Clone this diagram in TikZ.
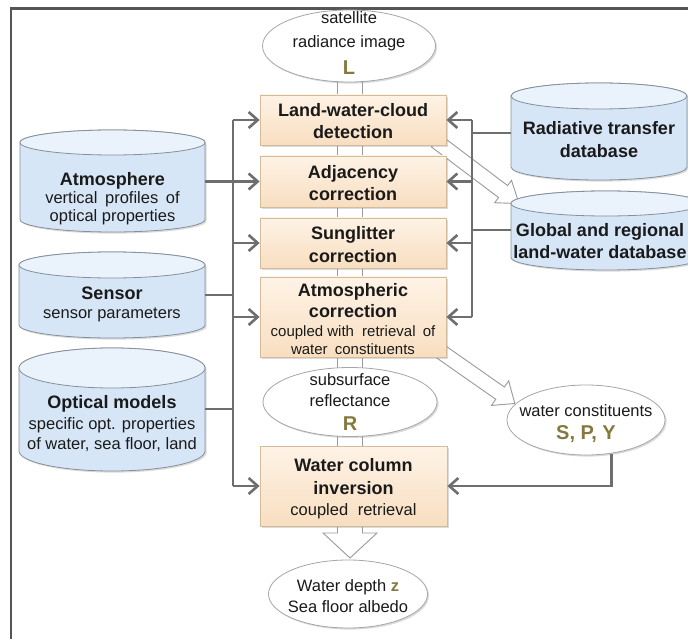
\documentclass[tikz,border=0pt]{standalone}
\usepackage{fontspec}
\setmainfont{Liberation Sans}
\usetikzlibrary{arrows.meta,shapes.geometric,shadows,calc}
\definecolor{conncol}{HTML}{6E6E6E}
\definecolor{boxtop}{HTML}{FEF3E6}
\definecolor{boxbot}{HTML}{F8DEC0}
\definecolor{boxedge}{HTML}{D3BC9C}
\definecolor{cyltop}{HTML}{EAF2FC}
\definecolor{cylbody}{HTML}{D6E6F7}
\definecolor{cyledge}{HTML}{86909A}
\definecolor{elledge}{HTML}{A6A6A6}
\definecolor{olivec}{HTML}{857A3E}
\definecolor{framec}{HTML}{555555}
\definecolor{blockedge}{HTML}{9A9A9A}
\definecolor{txtc}{HTML}{1A1A1A}
\tikzset{
 conn/.style={draw=conncol, line width=2.6pt},
 arr/.style={-{Straight Barb[length=9pt,width=16pt]}},
 shad/.style={drop shadow={opacity=0.28, shadow xshift=1.6pt, shadow yshift=-1.6pt}},
 pbox/.style={rectangle, inner sep=0pt, minimum width=186pt, draw=boxedge, line width=0.8pt, top color=boxtop, bottom color=boxbot, shad},
 oval/.style={ellipse, inner sep=0pt, draw=elledge, line width=0.8pt, fill=white, shad},
 cylbod/.style={draw=cyledge, line width=0.8pt, fill=cylbody, shad},
 cyltopst/.style={draw=cyledge, line width=0.8pt, fill=cyltop},
 blk/.style={draw=blockedge, line width=0.9pt, fill=white},
 tb/.style={inner sep=0pt, font=\fontsize{18}{18}\selectfont\bfseries, text height=13pt, text depth=0pt, text=txtc},
 tr/.style={inner sep=0pt, font=\fontsize{16.5}{16.5}\selectfont, text height=12pt, text depth=0pt, text=txtc},
 ts/.style={inner sep=0pt, font=\fontsize{15}{15}\selectfont, text height=11pt, text depth=0pt, text=txtc},
 tl/.style={inner sep=0pt, font=\fontsize{20}{20}\selectfont\bfseries, text height=14.5pt, text depth=0pt, text=olivec},
}
% cx, rx, Ytop, Ybot, ry
\newcommand\mycyl[5]{%
 \path[cylbod] (#1-#2,#3-#5) -- (#1-#2,#4+#5) arc[start angle=180,end angle=360,x radius=#2,y radius=#5] -- (#1+#2,#3-#5) arc[start angle=0,end angle=180,x radius=#2,y radius=#5] -- cycle;
 \path[cyltopst] (#1,#3-#5) ellipse[x radius=#2, y radius=#5];}
% sx, sy, angle, shaft length, head length, shaft half width, head half width
\newcommand\myblockarrow[7]{%
 \begin{scope}[shift={(#1,#2)}, rotate=#3]
 \path[blk] (0,-#6) -- (#4,-#6) -- (#4,-#7) -- (#4+#5,0) -- (#4,#7) -- (#4,#6) -- (0,#6) -- cycle;
 \end{scope}}
\begin{document}
\begin{tikzpicture}[x=1pt,y=1pt]
\path[use as bounding box] (0,0) rectangle (688,638);
\clip (0,0) rectangle (688,638);
\fill[white] (0,0) rectangle (688,638);
% frame
\draw[framec, line width=2.5pt] (10.8,-5) -- (10.8,629.5) -- (700,629.5);
% central hollow arrow
\path[blk] (337.5,578) -- (337.5,105) -- (323,105) -- (350,80) -- (377,105) -- (362.5,105) -- (362.5,578) -- cycle;
% diagonal hollow arrows
\myblockarrow{436}{497}{-37}{84}{20}{7.5}{14}
\myblockarrow{437}{289}{-35}{77}{18}{7.5}{15}
% cylinders
\mycyl{112.5}{92.5}{508}{406}{12.5}
\mycyl{112}{93}{386}{300}{13}
\mycyl{112}{93}{290}{167}{20}
\mycyl{599}{88}{555}{458}{13}
\mycyl{606}{95}{447}{368}{12.5}
% main shapes
\node[oval, minimum width=173pt, minimum height=72pt] (sat) at (349,592) {};
\node[pbox, minimum height=50pt] (box1) at (353,518) {};
\node[pbox, minimum height=51pt] (box2) at (353,456.5) {};
\node[pbox, minimum height=50pt] (box3) at (353,395) {};
\node[pbox, minimum height=80pt] (box4) at (353,321) {};
\node[oval, minimum width=174pt, minimum height=69pt] (sub) at (350,236) {};
\node[pbox, minimum width=187pt, minimum height=80pt] (box5) at (353.5,152) {};
\node[oval, minimum width=159pt, minimum height=68pt] (bot) at (348,44) {};
\node[oval, minimum width=158pt, minimum height=70pt] (wc) at (586,218) {};
% texts
\node[tr] (t-sat1) at (349,620) {satellite};
\node[tr] (t-sat2) at (349,596) {radiance image};
\node[tl] (t-sat3) at (349,571) {L};
\node[tb] (t-b1a) at (353,528) {Land-water-cloud};
\node[tb] (t-b1b) at (353,506) {detection};
\node[tb] (t-b2a) at (353,466) {Adjacency};
\node[tb] (t-b2b) at (353,444) {correction};
\node[tb] (t-b3a) at (353,405) {Sunglitter};
\node[tb] (t-b3b) at (353,382) {correction};
\node[tb] (t-b4a) at (353,348) {Atmospheric};
\node[tb] (t-b4b) at (353,327) {correction};
\node[ts] (t-b4c) at (353,307) {coupled with\hspace{4pt} retrieval\hspace{3pt} of};
\node[ts] (t-b4d) at (353,289) {water\hspace{3pt} constituents};
\node[tr] (t-sub1) at (350,258) {subsurface};
\node[tr] (t-sub2) at (350,238) {reflectance};
\node[tl] (t-sub3) at (350,215) {R};
\node[tb] (t-b5a) at (353.5,173) {Water column};
\node[tb] (t-b5b) at (353.5,150) {inversion};
\node[tr] (t-b5c) at (353.5,129) {coupled\hspace{5pt} retrieval};
\node[tr] (t-bot1) at (348,53) {Water depth \textcolor{olivec}{\bfseries z}};
\node[tr] (t-bot2) at (348,32) {Sea floor albedo};
\node[tr] (t-wc1) at (586,228) {water constituents};
\node[tl] (t-wc2) at (586,206) {S, P, Y};
\node[tb] (t-atm1) at (112.5,459) {Atmosphere};
\node[tr] (t-atm2) at (112.5,440) {vertical\hspace{3pt} profiles\hspace{3pt} of};
\node[tr] (t-atm3) at (112.5,422) {optical properties};
\node[tb] (t-sen1) at (112,345) {Sensor};
\node[tr] (t-sen2) at (112,325) {sensor parameters};
\node[tb] (t-opt1) at (112,236) {Optical models};
\node[tr] (t-opt2) at (112,215) {specific opt. properties};
\node[tr] (t-opt3) at (112,195) {of water, sea floor, land};
\node[tb] (t-rad1) at (599,510) {Radiative transfer};
\node[tb] (t-rad2) at (599,487) {database};
\node[tb] (t-glo1) at (600,408) {Global and regional};
\node[tb] (t-glo2) at (600,386) {land-water database};
% connector anchors
\coordinate (lbus) at (233,0);
\coordinate (rbus) at (472,0);
\coordinate (atmR) at (205,457);
\coordinate (sensR) at (205,343);
\coordinate (optR) at (205,229);
\coordinate (radL) at (511,505);
\coordinate (gloL) at (511,408);
% left connectors
\draw[conn] (box1.west -| lbus) -- (box5.west -| lbus);
\draw[conn,arr] (box1.west -| lbus) -- (box1.west);
\draw[conn,arr] (box2.west -| atmR) -- (box2.west);
\draw[conn,arr] (box3.west -| lbus) -- (box3.west);
\draw[conn,arr] (box4.west -| lbus) -- (box4.west);
\draw[conn,arr] (box5.west -| lbus) -- (box5.west);
\draw[conn] (sensR) -- (sensR -| lbus);
\draw[conn] (optR) -- (optR -| lbus);
% right connectors
\draw[conn] (box1.east -| rbus) -- (box4.east -| rbus);
\draw[conn,arr] (box1.east -| rbus) -- (box1.east);
\draw[conn,arr] (box2.east -| rbus) -- (box2.east);
\draw[conn,arr] (box3.east -| rbus) -- (box3.east);
\draw[conn,arr] (box4.east -| rbus) -- (box4.east);
\draw[conn] (radL) -- (radL -| rbus);
\draw[conn] (gloL) -- (gloL -| rbus);
\draw[conn,arr] (wc.307) |- (box5.east);
\end{tikzpicture}
\end{document}
